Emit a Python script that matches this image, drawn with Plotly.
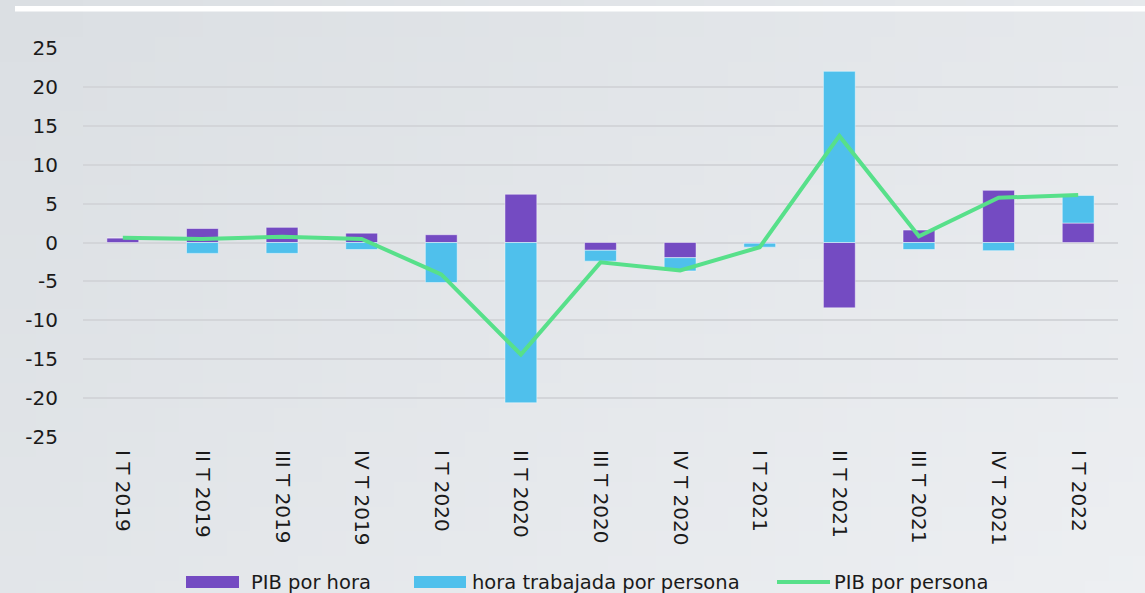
import zlib, struct, base64
import plotly.graph_objects as go

# ---------------- data ----------------
categories = ["I T 2019", "II T 2019", "III T 2019", "IV T 2019", "I T 2020", "II T 2020",
              "III T 2020", "IV T 2020", "I T 2021", "II T 2021", "III T 2021", "IV T 2021", "I T 2022"]
pib_por_hora = [0.6, 1.8, 1.95, 1.2, 1.0, 6.2, -1.0, -1.95, -0.1, -8.4, 1.6, 6.7, 2.5]
hora_trabajada_por_persona = [0.0, -1.4, -1.4, -0.9, -5.15, -20.6, -1.4, -1.7, -0.5, 22.0, -0.9, -1.05, 3.55]
pib_por_persona = [0.6, 0.45, 0.75, 0.45, -4.1, -14.4, -2.55, -3.6, -0.6, 13.7, 0.8, 5.75, 6.1]
y_tick_values = [-25, -20, -15, -10, -5, 0, 5, 10, 15, 20, 25]
y_tick_labels = ["-25", "-20", "-15", "-10", "-5", "0", "5", "10", "15", "20", "25"]
series_names = ["PIB por hora", "hora trabajada por persona", "PIB por persona"]

# ---------------- style ----------------
PURPLE = "#744BC2"
BLUE = "#4FC0EC"
GREEN = "#57E08A"
GRID = "#d3d5d9"
FONT = "DejaVu Sans"
W, H = 1145, 593
ML, MR, MT, MB = 83, 27, 48, 156
PW, PH = W - ML - MR, H - MT - MB


def px_x(px):
    return (px - ML) / PW


def px_y(py):
    return (H - MB - py) / PH


def png_gradient(w, h, c0, c1):
    rows = b""
    for j in range(h):
        row = b"\x00"
        for i in range(w):
            t = (i / (w - 1) * 0.6 + j / (h - 1) * 0.4)
            row += bytes(round(a + (b - a) * t) for a, b in zip(c0, c1))
        rows += row

    def chunk(tag, data):
        c = struct.pack(">I", len(data)) + tag + data
        return c + struct.pack(">I", zlib.crc32(tag + data) & 0xffffffff)

    png = (b"\x89PNG\r\n\x1a\n"
           + chunk(b"IHDR", struct.pack(">IIBBBBB", w, h, 8, 2, 0, 0, 0))
           + chunk(b"IDAT", zlib.compress(rows))
           + chunk(b"IEND", b""))
    return "data:image/png;base64," + base64.b64encode(png).decode()


fig = go.Figure()
fig.add_trace(go.Bar(x=categories, y=pib_por_hora, name=series_names[0],
                     marker=dict(color=PURPLE, line=dict(color="rgba(255,255,255,0.45)", width=1)),
                     showlegend=False))
fig.add_trace(go.Bar(x=categories, y=hora_trabajada_por_persona, name=series_names[1],
                     marker=dict(color=BLUE, line=dict(color="rgba(255,255,255,0.45)", width=1)),
                     showlegend=False))
fig.add_trace(go.Scatter(x=categories, y=pib_por_persona, name=series_names[2], mode="lines",
                         line=dict(color=GREEN, width=4), showlegend=False))

# legend drawn as decoration below the plot
leg_y = px_y(582)
half = 6 / PH
shapes = [
    dict(type="rect", xref="paper", yref="paper", x0=px_x(186), x1=px_x(239), y0=leg_y - half, y1=leg_y + half,
         fillcolor=PURPLE, line=dict(width=0)),
    dict(type="rect", xref="paper", yref="paper", x0=px_x(414), x1=px_x(466), y0=leg_y - half, y1=leg_y + half,
         fillcolor=BLUE, line=dict(width=0)),
    dict(type="line", xref="paper", yref="paper", x0=px_x(777), x1=px_x(830), y0=leg_y, y1=leg_y,
         line=dict(color=GREEN, width=4)),
    # white band at the very top
    dict(type="rect", xref="paper", yref="paper", x0=px_x(15), x1=px_x(W + 2), y0=px_y(11.5), y1=px_y(6),
         fillcolor="white", line=dict(width=0)),
]
annotations = [
    dict(xref="paper", yref="paper", x=px_x(xp), y=leg_y, text=name, showarrow=False,
         xanchor="left", yanchor="middle", font=dict(family=FONT, size=19.5, color="#1a1a1a"))
    for xp, name in zip([249, 470, 832], series_names)
]

fig.update_layout(
    width=W, height=H, autosize=False,
    margin=dict(l=ML, r=MR, t=MT, b=MB, pad=0),
    barmode="relative", bargap=0.6,
    paper_bgcolor="#e4e7ea", plot_bgcolor="rgba(0,0,0,0)",
    font=dict(family=FONT, size=20, color="#1a1a1a"),
    shapes=shapes, annotations=annotations,
    images=[dict(source=png_gradient(48, 24, (219, 223, 227), (237, 239, 242)),
                 xref="paper", yref="paper", x=px_x(0), y=px_y(0), sizex=W / PW, sizey=H / PH,
                 xanchor="left", yanchor="top", sizing="stretch", layer="below")],
    showlegend=False,
)
fig.update_xaxes(type="category", tickangle=90, showgrid=False, showline=False, zeroline=False,
                 ticks="outside", ticklen=8, tickcolor="rgba(0,0,0,0)",
                 tickfont=dict(family=FONT, size=20, color="#1a1a1a"), range=[-0.5, 12.5])
fig.update_yaxes(range=[-25, 25], tickvals=y_tick_values, ticktext=y_tick_labels,
                 showgrid=True, gridcolor=GRID, gridwidth=1.5,
                 zeroline=True, zerolinecolor=GRID, zerolinewidth=1.5, showline=False,
                 ticks="outside", ticklen=20, tickcolor="rgba(0,0,0,0)",
                 tickfont=dict(family=FONT, size=20, color="#1a1a1a"))

fig.write_html("out.html", config={"displayModeBar": False},
               post_script="document.body.style.margin='0';document.body.style.background='#e4e7ea';")
